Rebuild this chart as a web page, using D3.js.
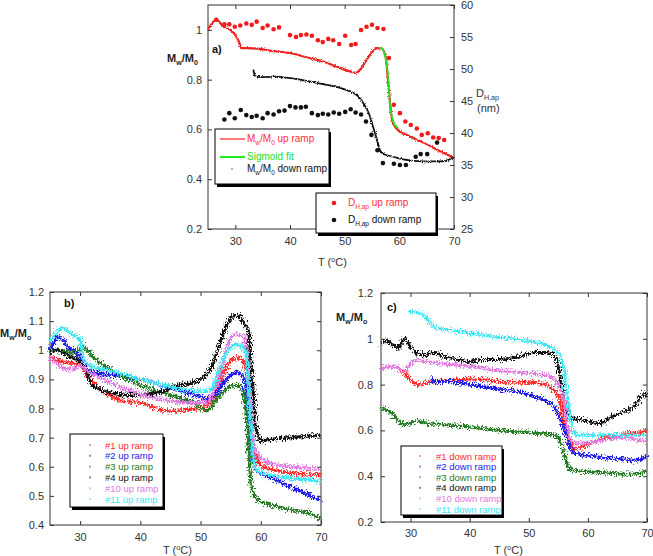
<!DOCTYPE html>
<html>
<head>
<meta charset="utf-8">
<script src="https://cdn.jsdelivr.net/npm/d3@7"></script>
<style>
  body { margin: 0; background: #fff; }
  text { font-family: "Liberation Sans", Arial, sans-serif; }
</style>
</head>
<body>
<svg id="chart" width="653" height="556"></svg>
<script>
// ---- data: [T (degC), value] ----
const tempTicks = [30, 40, 50, 60, 70];

// panel a) left axis Mw/M0
const aMwUp = [[25,1.0],[26.5,1.04],[27.8,1.015],[29.6,0.99],[30.5,0.96],[31.2,0.927],[32,0.927],[34,0.925],[37,0.915],[40,0.907],[43,0.89],[46,0.873],[49,0.848],[51,0.833],[52,0.827],[53,0.845],[54,0.88],[55,0.91],[56,0.927],[56.8,0.925],[57.5,0.89],[58,0.78],[58.5,0.66],[59,0.62],[59.5,0.603],[61.9,0.573],[64.4,0.547],[67.4,0.513],[70,0.485]];
const aSigmoid = [[56.3,0.928],[56.8,0.925],[57.2,0.91],[57.6,0.875],[57.9,0.82],[58.1,0.76],[58.3,0.70],[58.6,0.655],[59,0.625],[59.5,0.61],[59.8,0.605]];
const aMwDown = [[33.3,0.84],[33.6,0.815],[35,0.81],[37,0.812],[40,0.806],[43,0.795],[45,0.787],[47.3,0.777],[49,0.768],[51,0.753],[52.5,0.733],[53.7,0.695],[54.5,0.66],[55.2,0.61],[55.9,0.56],[56.5,0.515],[57.2,0.50],[58,0.495],[60.7,0.48],[64.4,0.472],[68,0.472],[69.2,0.48],[70,0.49]];
// panel a) right axis D_H,ap (nm)
const aDhUp = [[26.5,57.7],[28,57.0],[28.9,57.0],[29.9,56.6],[30.9,56.8],[32,57.1],[33,56.9],[33.9,57.4],[35,56.4],[35.9,56.8],[37,56.2],[38,56.5],[40,55.3],[41.1,55.0],[42,55.3],[43,55.4],[44,55.2],[45.1,54.5],[46,54.2],[47,54.7],[47.9,54.5],[49,53.9],[50.1,55.2],[51.2,53.75],[52,53.9],[53,56.1],[54,56.6],[55,56.9],[56,56.4],[57.1,56.25],[58.1,51.7],[59,44.4],[60.1,43.1],[61.1,41.8],[62.1,41.25],[63.2,40.7],[64.1,39.7],[65.2,39.95],[66.2,39.3],[67.2,39.2],[68.2,38.9]];
const aDhDown = [[28,42.1],[28.9,43.1],[29.9,42.3],[31,43.6],[32,42.8],[33,42.5],[33.9,42.7],[35,42.3],[35.9,43.1],[37,42.9],[38,43.4],[39,43.5],[40,44.2],[41,44.0],[42,44.0],[42.9,44.1],[44,43.1],[45.1,42.8],[46,43.0],[47,42.9],[48,43.2],[49,43.0],[50.1,43.3],[51.1,43.7],[52,43.2],[53,42.9],[53.9,41.8],[54.9,39.7],[56,37.3],[57,35.3],[59,35.2],[60.1,35.0],[61.2,35.0],[63,36.3],[63.9,36.7],[65.1,36.7],[66.9,38.5]];

// panel b) up ramps
const bUp1 = [[25,0.98],[27,0.96],[29,0.955],[30,0.95],[31,0.92],[33,0.87],[35,0.845],[37,0.825],[40,0.82],[43,0.797],[46,0.79],[48,0.797],[50,0.80],[51,0.81],[52,0.83],[53,0.87],[54,0.93],[55,0.965],[56,0.975],[57,0.965],[57.6,0.93],[58.2,0.80],[58.8,0.67],[59.5,0.62],[60,0.605],[62,0.59],[65,0.578],[68,0.575],[70,0.572]];
const bUp2 = [[25,1.0],[26.5,1.045],[28,1.01],[29.5,0.99],[30.5,0.95],[32,0.926],[35,0.915],[40,0.90],[45,0.872],[48,0.853],[51,0.834],[52,0.84],[53,0.86],[54,0.89],[55,0.915],[56,0.925],[57,0.91],[57.5,0.88],[58,0.78],[58.5,0.65],[59,0.595],[60,0.577],[62,0.56],[65,0.531],[68,0.503],[70,0.486]];
const bUp3 = [[25,1.0],[27,1.0],[29,0.99],[30.5,1.011],[32,0.98],[35,0.935],[38,0.90],[41,0.873],[44,0.853],[47,0.833],[49,0.82],[50,0.80],[51,0.792],[52,0.81],[53,0.84],[54,0.862],[55,0.877],[56,0.88],[57,0.86],[57.5,0.80],[58,0.65],[58.5,0.525],[59,0.50],[60,0.48],[62,0.467],[65,0.452],[68,0.44],[70,0.42]];
const bUp4 = [[25,0.99],[26,1.0],[28,0.98],[30,0.96],[31,0.93],[32,0.88],[34,0.86],[35.7,0.851],[38,0.845],[41.7,0.85],[44,0.86],[46.1,0.88],[48,0.885],[50,0.90],[51.1,0.92],[52,0.95],[53.3,1.03],[54,1.07],[55,1.11],[56,1.12],[56.6,1.115],[57.3,1.09],[58,1.06],[58.4,0.95],[58.8,0.84],[59.2,0.74],[59.6,0.70],[60,0.69],[62,0.695],[65,0.70],[68,0.705],[70,0.71]];
const bUp10 = [[25,0.98],[27,0.94],[29,0.935],[30,0.95],[31,0.93],[33,0.91],[36,0.88],[40,0.85],[44,0.83],[48,0.82],[51,0.82],[52,0.85],[53,0.90],[54,0.98],[55,1.04],[56,1.055],[57,1.05],[57.5,1.02],[58,0.90],[58.5,0.75],[59,0.66],[60,0.63],[62,0.61],[65,0.60],[68,0.595],[70,0.59]];
const bUp11 = [[25,1.03],[26,1.06],[27,1.075],[29,1.05],[30,1.04],[30.5,0.97],[32,0.945],[35,0.93],[40,0.90],[45,0.875],[48,0.863],[51,0.86],[52,0.87],[53,0.93],[54,0.98],[55,1.01],[56,1.02],[57,1.01],[57.5,0.99],[58,0.85],[58.5,0.68],[59,0.60],[60,0.58],[62,0.57],[65,0.56],[68,0.555],[70,0.55]];

// panel c) down ramps
const cDown1 = [[27.5,0.875],[29,0.85],[30,0.82],[31,0.80],[33,0.81],[35,0.815],[38,0.82],[40,0.825],[43,0.82],[46,0.81],[50,0.81],[53,0.80],[54,0.78],[55,0.75],[55.5,0.70],[56,0.62],[57,0.54],[58,0.52],[60,0.54],[62,0.56],[65,0.58],[68,0.59],[70,0.60]];
const cDown2 = [[33.5,0.83],[34,0.812],[36,0.815],[40,0.80],[45,0.78],[48,0.77],[50,0.755],[52,0.74],[54,0.71],[55,0.67],[56,0.60],[57,0.52],[58,0.50],[60,0.49],[63,0.48],[66,0.475],[68,0.47],[69.5,0.48],[70,0.49]];
const cDown3 = [[25,0.70],[27,0.67],[28,0.64],[29,0.625],[31,0.64],[33,0.63],[36,0.625],[40,0.615],[45,0.60],[50,0.59],[54,0.58],[55,0.57],[56,0.50],[56.5,0.45],[57,0.43],[58,0.425],[60,0.42],[63,0.415],[66,0.41],[68,0.41],[70,0.42]];
const cDown4 = [[25,0.98],[26,0.99],[28,0.96],[29,1.0],[30,0.96],[32,0.93],[34,0.94],[36,0.92],[38,0.91],[40,0.90],[42,0.91],[45,0.91],[48,0.92],[51,0.94],[53,0.94],[54,0.93],[55,0.88],[55.5,0.80],[56,0.72],[57,0.66],[58,0.65],[60,0.64],[62,0.63],[64,0.66],[66,0.68],[68,0.71],[69.5,0.76],[70,0.75]];
const cDown10 = [[25,0.87],[27,0.88],[28,0.87],[29,0.86],[30,0.89],[31,0.905],[33,0.90],[36,0.89],[40,0.88],[45,0.86],[50,0.85],[53,0.84],[54,0.83],[55,0.80],[56,0.72],[56.5,0.62],[57,0.56],[58,0.545],[60,0.545],[63,0.56],[66,0.57],[68,0.56],[70,0.55]];
const cDown11 = [[29.7,1.12],[31,1.115],[32,1.11],[33,1.08],[34,1.05],[36,1.04],[40,1.025],[44,1.01],[47,1.0],[50,0.99],[52.6,0.975],[54.3,0.955],[55.4,0.92],[56,0.86],[56.6,0.73],[57.2,0.63],[57.7,0.59],[58.5,0.58],[60,0.58],[65,0.58],[70,0.58]];

const runLabels = ["#1", "#2", "#3", "#4", "#10", "#11"];
const runColors = ["#ff2a2a", "#1c1ce6", "#237a23", "#111111", "#e07ae0", "#3ee6f2"];

// ---- drawing ----
const svg = d3.select("#chart");
const defs = svg.append("defs");

function addFuzz(id, scale, freq) {
  const f = defs.append("filter").attr("id", id)
    .attr("filterUnits", "userSpaceOnUse")
    .attr("x", 0).attr("y", 0).attr("width", 653).attr("height", 556)
    .attr("color-interpolation-filters", "sRGB");
  f.append("feTurbulence").attr("type", "fractalNoise")
    .attr("baseFrequency", freq).attr("numOctaves", 2).attr("seed", 4).attr("result", "noise");
  f.append("feDisplacementMap").attr("in", "SourceGraphic").attr("in2", "noise")
    .attr("scale", scale).attr("xChannelSelector", "R").attr("yChannelSelector", "G");
}
addFuzz("fuzz", 10, "0.8 0.5");
addFuzz("fuzzA", 3, "0.8 0.8");

// write text with subscripts; parts = [[string, "sub"|"sup"|null], ...]
function rich(g, x, y, parts, size, color, weight) {
  const t = g.append("text").attr("x", x).attr("y", y)
    .attr("font-size", size).attr("fill", color).attr("font-weight", weight || "normal");
  let shift = 0;
  parts.forEach(([s, kind]) => {
    const want = kind === "sub" ? size * 0.3 : kind === "sup" ? -size * 0.4 : 0;
    t.append("tspan").attr("dy", want - shift)
      .attr("font-size", kind ? size * 0.65 : size).text(s);
    shift = want;
  });
  return t;
}

function styleAxis(g) {
  g.select(".domain").remove();
  g.attr("font-family", "Liberation Sans, Arial, sans-serif").attr("font-size", 11).attr("color", "#333");
  g.selectAll(".tick text").attr("fill", "#333");
}

function makePanel(p) {
  const x = d3.scaleLinear().domain([25, 70]).range([p.x0, p.x1]);
  const y = d3.scaleLinear().domain(p.yDomain).range([p.y1, p.y0]);
  const g = svg.append("g");

  g.append("g").attr("transform", `translate(0,${p.y1})`)
    .call(d3.axisBottom(x).tickValues(tempTicks).tickSizeInner(-4).tickSizeOuter(0).tickPadding(p.xPad))
    .call(styleAxis);
  g.append("g").attr("transform", `translate(0,${p.y0})`)
    .call(d3.axisTop(x).tickValues(tempTicks).tickSizeInner(-4).tickSizeOuter(0).tickFormat(""))
    .call(styleAxis);
  g.append("g").attr("transform", `translate(${p.x0},0)`)
    .call(d3.axisLeft(y).tickValues(p.yTicks).tickSizeInner(-4).tickSizeOuter(0).tickPadding(p.yPad).tickFormat(d3.format("~g")))
    .call(styleAxis);
  if (!p.noRight) {
    g.append("g").attr("transform", `translate(${p.x1},0)`)
      .call(d3.axisRight(y).tickValues(p.yTicks).tickSizeInner(-4).tickSizeOuter(0).tickFormat(""))
      .call(styleAxis);
  }
  g.append("rect").attr("x", p.x0).attr("y", p.y0)
    .attr("width", p.x1 - p.x0).attr("height", p.y1 - p.y0)
    .attr("fill", "none").attr("stroke", "#333").attr("stroke-width", 1);
  return { g, x, y };
}

function drawLine(g, x, y, data, color, width, filter) {
  const line = d3.line().x(d => x(d[0])).y(d => y(d[1])).curve(d3.curveMonotoneX);
  g.append("path").datum(data).attr("d", line)
    .attr("fill", "none").attr("stroke", color).attr("stroke-width", width)
    .attr("stroke-linejoin", "round")
    .attr("filter", filter ? `url(#${filter})` : null);
}

function legendBox(x0, y0, w, h) {
  svg.append("rect").attr("x", x0 + 2).attr("y", y0 + 3).attr("width", w).attr("height", h).attr("fill", "#000");
  svg.append("rect").attr("x", x0).attr("y", y0).attr("width", w).attr("height", h)
    .attr("fill", "#fff").attr("stroke", "#000").attr("stroke-width", 1);
}

// ---------- panel a ----------
const A = makePanel({ x0: 208, x1: 454, y0: 5, y1: 229, yDomain: [0.2, 1.1],
  yTicks: [0.2, 0.4, 0.6, 0.8, 1], xPad: 8, yPad: 6, noRight: true });
const yD = d3.scaleLinear().domain([25, 60]).range([229, 5]);
A.g.append("g").attr("transform", "translate(454,0)")
  .call(d3.axisRight(yD).tickValues([25, 30, 35, 40, 45, 50, 55, 60]).tickSizeInner(-4).tickSizeOuter(0).tickPadding(7))
  .call(styleAxis);

A.g.selectAll(".dh-up").data(aDhUp).enter().append("circle")
  .attr("cx", d => A.x(d[0])).attr("cy", d => yD(d[1])).attr("r", 2.3).attr("fill", "#f01c1c");
A.g.selectAll(".dh-down").data(aDhDown).enter().append("circle")
  .attr("cx", d => A.x(d[0])).attr("cy", d => yD(d[1])).attr("r", 2.3).attr("fill", "#111");
drawLine(A.g, A.x, A.y, aMwUp, "#ee2020", 2.2, "fuzzA");
drawLine(A.g, A.x, A.y, aMwDown, "#111", 1.8, "fuzzA");
drawLine(A.g, A.x, A.y, aSigmoid, "#22e022", 1.8, null);

rich(svg, 212, 53, [["a)", null]], 11, "#111", "bold");
rich(svg, 167, 62, [["M", null], ["w", "sub"], ["/M", null], ["0", "sub"]], 11, "#222", "bold");
rich(svg, 476, 97, [["D", null], ["H,ap", "sub"]], 11, "#333");
rich(svg, 477, 112, [["(nm)", null]], 11, "#333");
rich(svg, 318, 266, [["T (", null], ["o", "sup"], ["C)", null]], 11, "#333");

legendBox(215, 129, 114, 55);
svg.append("line").attr("x1", 220).attr("x2", 245).attr("y1", 139).attr("y2", 139).attr("stroke", "#ff5050").attr("stroke-width", 1.5);
svg.append("line").attr("x1", 220).attr("x2", 245).attr("y1", 157).attr("y2", 157).attr("stroke", "#22ee22").attr("stroke-width", 2);
svg.append("circle").attr("cx", 232).attr("cy", 169).attr("r", 0.8).attr("fill", "#555");
rich(svg, 247, 142, [["M", null], ["w", "sub"], ["/M", null], ["0", "sub"], [" up ramp", null]], 10, "#ff3030");
rich(svg, 247, 160, [["Sigmoid fit", null]], 10, "#22dd22");
rich(svg, 247, 172, [["M", null], ["w", "sub"], ["/M", null], ["0", "sub"], [" down ramp", null]], 10, "#111");

legendBox(316, 193, 120, 40);
svg.append("circle").attr("cx", 334).attr("cy", 203).attr("r", 2.3).attr("fill", "#f01c1c");
svg.append("circle").attr("cx", 334).attr("cy", 220).attr("r", 2.3).attr("fill", "#111");
rich(svg, 348, 206, [["D", null], ["H,ap", "sub"], [" up ramp", null]], 10, "#ff3030");
rich(svg, 348, 223, [["D", null], ["H,ap", "sub"], [" down ramp", null]], 10, "#111");

// ---------- panel b ----------
const B = makePanel({ x0: 50, x1: 321, y0: 292, y1: 525, yDomain: [0.4, 1.2],
  yTicks: [0.4, 0.5, 0.6, 0.7, 0.8, 0.9, 1, 1.1, 1.2], xPad: 8, yPad: 6 });
[bUp1, bUp2, bUp3, bUp4, bUp10, bUp11].forEach((s, i) => drawLine(B.g, B.x, B.y, s, runColors[i], 3.2, "fuzz"));
rich(svg, 64, 307, [["b)", null]], 11, "#111", "bold");
rich(svg, 0, 337, [["M", null], ["w", "sub"], ["/M", null], ["o", "sub"]], 11, "#222", "bold");
rich(svg, 163, 554, [["T (", null], ["o", "sup"], ["C)", null]], 11, "#333");

legendBox(70, 434, 93, 73);
runLabels.forEach((lab, i) => {
  const yy = 445 + i * 10.8;
  svg.append("rect").attr("x", 89).attr("y", yy - 1).attr("width", 2).attr("height", 2).attr("fill", runColors[i]).attr("opacity", 0.5);
  rich(svg, 105, yy + 3.5, [[lab + " up ramp", null]], 9.5, runColors[i]);
});

// ---------- panel c ----------
const C = makePanel({ x0: 381, x1: 647, y0: 293, y1: 522, yDomain: [0.2, 1.2],
  yTicks: [0.2, 0.4, 0.6, 0.8, 1, 1.2], xPad: 7, yPad: 8 });
[cDown1, cDown2, cDown3, cDown4, cDown10, cDown11].forEach((s, i) => drawLine(C.g, C.x, C.y, s, runColors[i], 3, "fuzz"));
rich(svg, 387, 311, [["c)", null]], 11, "#111", "bold");
rich(svg, 336, 321, [["M", null], ["w", "sub"], ["/M", null], ["o", "sub"]], 11, "#222", "bold");
rich(svg, 494, 554, [["T (", null], ["o", "sup"], ["C)", null]], 11, "#333");

legendBox(401, 446, 101, 69);
runLabels.forEach((lab, i) => {
  const yy = 456 + i * 10.6;
  svg.append("rect").attr("x", 419).attr("y", yy - 1).attr("width", 2).attr("height", 2).attr("fill", runColors[i]).attr("opacity", 0.5);
  rich(svg, 436, yy + 3.5, [[lab + " down ramp", null]], 9.5, runColors[i]);
});
</script>
</body>
</html>
